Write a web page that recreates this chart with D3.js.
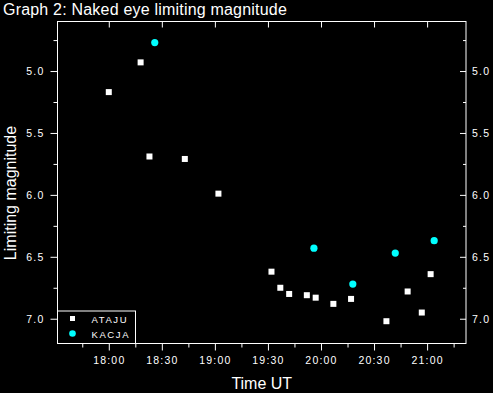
<!DOCTYPE html>
<html>
<head>
<meta charset="utf-8">
<script src="https://cdn.jsdelivr.net/npm/d3@7"></script>
<style>
  html, body { margin: 0; padding: 0; background: #000; }
  svg { display: block; }
  text { font-family: "Liberation Sans", Arial, sans-serif; fill: #fff; }
</style>
</head>
<body>
<svg id="chart"></svg>
<script>
// observation times (UT) and limiting magnitudes
const atajuTimes = ["18:00", "18:18", "18:23", "18:43", "19:02", "19:32", "19:37", "19:42",
                    "19:52", "19:57", "20:07", "20:17", "20:37", "20:49", "20:57", "21:02"];
const atajuMags = [5.17, 4.93, 5.69, 5.71, 5.99, 6.62, 6.75, 6.80,
                   6.81, 6.83, 6.88, 6.84, 7.02, 6.78, 6.95, 6.64];
const kacjaTimes = ["18:26", "19:56", "20:18", "20:42", "21:04"];
const kacjaMags = [4.77, 6.43, 6.72, 6.47, 6.37];

const xTickLabels = ["18:00", "18:30", "19:00", "19:30", "20:00", "20:30", "21:00"];
const xMinorLabels = ["17:45", "18:15", "18:45", "19:15", "19:45", "20:15", "20:45", "21:15"];
const yTicks = [5.0, 5.5, 6.0, 6.5, 7.0];
const yMinor = [4.75, 5.25, 5.75, 6.25, 6.75];

const toMin = s => { const [h, m] = s.split(":").map(Number); return h * 60 + m; };

const width = 493, height = 393;
const margin = { top: 21.5, right: 27, bottom: 49.5, left: 57.5 };
const w = width - margin.left - margin.right;
const h = height - margin.top - margin.bottom;

const svg = d3.select("#chart").attr("width", width).attr("height", height);

svg.append("text")
    .attr("x", 3).attr("y", 15)
    .attr("font-size", 16)
    .attr("letter-spacing", 0.2)
    .text("Graph 2: Naked eye limiting magnitude");

const chart = svg.append("g")
    .attr("transform", `translate(${margin.left},${margin.top})`);

const x = d3.scaleLinear().domain([toMin("17:31"), toMin("21:22")]).range([0, w]);
const y = d3.scaleLinear().domain([4.6, 7.2]).range([0, h]);

const styleAxis = g => {
    g.select(".domain").remove();
    g.selectAll("line").attr("stroke", "#fff");
    g.selectAll("text").attr("fill", "#fff").attr("font-size", 10.5).attr("letter-spacing", 1.2);
};

// minor ticks
chart.append("g").attr("transform", `translate(0,${h})`)
    .call(d3.axisBottom(x).tickValues(xMinorLabels.map(toMin)).tickSize(4).tickFormat(""))
    .call(styleAxis);
chart.append("g")
    .call(d3.axisLeft(y).tickValues(yMinor).tickSize(4).tickFormat(""))
    .call(styleAxis);
chart.append("g").attr("transform", `translate(${w},0)`)
    .call(d3.axisRight(y).tickValues(yMinor).tickSize(-3).tickFormat(""))
    .call(styleAxis);

// major ticks
chart.append("g").attr("transform", `translate(0,${h})`)
    .call(d3.axisBottom(x).tickValues(xTickLabels.map(toMin)).tickSize(7).tickPadding(6)
        .tickFormat((d, i) => xTickLabels[i]))
    .call(styleAxis);
chart.append("g")
    .call(d3.axisTop(x).tickValues(xTickLabels.map(toMin)).tickSize(-6).tickFormat(""))
    .call(styleAxis);
chart.append("g")
    .call(d3.axisLeft(y).tickValues(yTicks).tickSize(7).tickPadding(6).tickFormat(d3.format(".1f")))
    .call(styleAxis);
chart.append("g").attr("transform", `translate(${w},0)`)
    .call(d3.axisRight(y).tickValues(yTicks).tickSize(-6).tickPadding(6).tickFormat(d3.format(".1f")))
    .call(styleAxis);

// frame
chart.append("rect")
    .attr("width", w).attr("height", h)
    .attr("fill", "none").attr("stroke", "#fff");

// data
const ataju = atajuTimes.map((t, i) => ({ t: toMin(t), m: atajuMags[i] }));
const kacja = kacjaTimes.map((t, i) => ({ t: toMin(t), m: kacjaMags[i] }));

chart.selectAll(".ataju").data(ataju).enter().append("rect")
    .attr("class", "ataju")
    .attr("x", d => x(d.t) - 3).attr("y", d => y(d.m) - 3)
    .attr("width", 6).attr("height", 6)
    .attr("fill", "#fff");

chart.selectAll(".kacja").data(kacja).enter().append("circle")
    .attr("class", "kacja")
    .attr("cx", d => x(d.t)).attr("cy", d => y(d.m))
    .attr("r", 3.6)
    .attr("fill", "#00ffff");

// legend
const legend = chart.append("g").attr("transform", `translate(0,${h - 32.5})`);
legend.append("rect")
    .attr("width", 78).attr("height", 32.5)
    .attr("fill", "#000").attr("stroke", "#fff");
legend.append("rect").attr("x", 12.5).attr("y", 5).attr("width", 5).attr("height", 5).attr("fill", "#fff");
legend.append("circle").attr("cx", 15).attr("cy", 22.5).attr("r", 3.3).attr("fill", "#00ffff");
legend.append("text").attr("x", 34).attr("y", 12).attr("font-size", 9.5).attr("letter-spacing", 1.6).text("ATAJU");
legend.append("text").attr("x", 34).attr("y", 26.5).attr("font-size", 9.5).attr("letter-spacing", 1.6).text("KACJA");

// axis titles
svg.append("text")
    .attr("x", margin.left + w / 2).attr("y", 389)
    .attr("text-anchor", "middle").attr("font-size", 16)
    .text("Time UT");

svg.append("text")
    .attr("transform", "translate(16,193) rotate(-90)")
    .attr("text-anchor", "middle").attr("font-size", 16)
    .text("Limiting magnitude");
</script>
</body>
</html>
